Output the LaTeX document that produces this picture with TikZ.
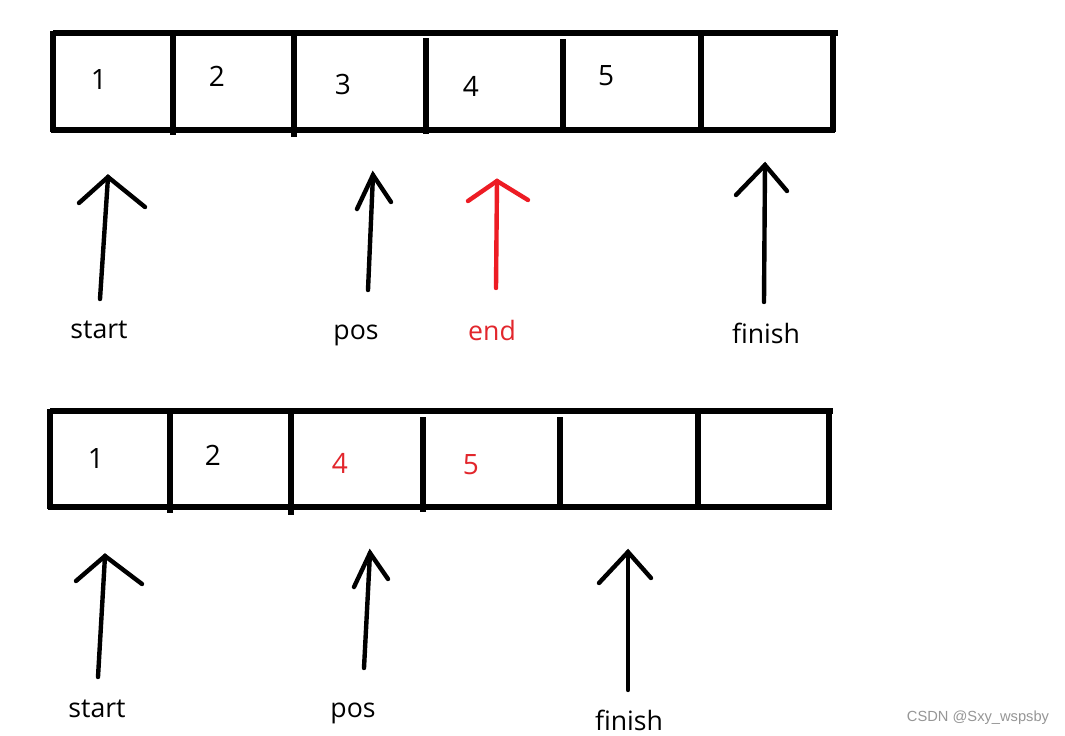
\documentclass[tikz,border=0pt]{standalone}
\usepackage{fontspec}
\setmainfont{Open Sans}
\newfontfamily\wmfont{Liberation Sans}
\definecolor{pred}{RGB}{237,28,36}
\definecolor{tred}{RGB}{226,38,44}
\definecolor{wmgray}{RGB}{150,150,150}
\begin{document}
\begin{tikzpicture}[x=0.75pt,y=-0.75pt,
  boxline/.style={line width=4.2pt,line cap=butt},
  arr/.style={line width=3.3pt,line cap=round,line join=miter},
  digit/.style={inner sep=0pt,font=\fontsize{21pt}{24pt}\selectfont},
  lbl/.style={inner sep=0pt,font=\fontsize{20pt}{24pt}\selectfont},
  wm/.style={inner sep=0pt,text=wmgray,font=\wmfont\fontsize{11pt}{13pt}\selectfont}]
\useasboundingbox[fill=white] (0,0) rectangle (1065,736);

% ---------- top array ----------
\draw[boxline] (53,33) -- (838,33);
\draw[boxline] (51,130) -- (835,130);
\draw[boxline] (53,31) -- (53,132);
\draw[boxline] (173,33) -- (173,135);
\draw[boxline] (294,33) -- (294,137);
\draw[boxline] (426,38) -- (426,134);
\draw[boxline] (563,39) -- (563,129);
\draw[boxline] (701,33) -- (701,130);
\draw[boxline] (833,31) -- (833,132);

\node[digit] (a1) at (99,80) {1};
\node[digit] (a2) at (217,76) {2};
\node[digit] (a3) at (343,84) {3};
\node[digit] (a4) at (471,86) {4};
\node[digit] (a5) at (606,76) {5};

% top arrows
\coordinate (sTa) at (108,177); \coordinate (sTb) at (100,299);
\coordinate (sTl) at (79,203);  \coordinate (sTr) at (145,207);
\draw[arr] (sTb) -- (sTa);
\draw[arr] (sTl) -- (sTa) -- (sTr);

\coordinate (pTa) at (373,175); \coordinate (pTb) at (368,290);
\coordinate (pTl) at (357,209); \coordinate (pTr) at (391,202);
\draw[arr] (pTb) -- (pTa);
\draw[arr] (pTl) -- (pTa) -- (pTr);

\coordinate (eTa) at (497,181); \coordinate (eTb) at (496,288);
\coordinate (eTl) at (468,201); \coordinate (eTr) at (528,200);
\draw[arr,pred] (eTb) -- (eTa);
\draw[arr,pred] (eTl) -- (eTa) -- (eTr);

\coordinate (fTa) at (765,165); \coordinate (fTb) at (764,302);
\coordinate (fTl) at (736,195); \coordinate (fTr) at (787,191);
\draw[arr] (fTb) -- (fTa);
\draw[arr] (fTl) -- (fTa) -- (fTr);

\node[lbl] (startT) at (99,330) {start};
\node[lbl] (posT) at (356,335) {pos};
\node[lbl,text=tred] (endT) at (492,330) {end};
\node[lbl] (finishT) at (766,333) {finish};

% ---------- bottom array ----------
\draw[boxline] (50,411) -- (833,411);
\draw[boxline] (48,507) -- (832,507);
\draw[boxline] (50,409) -- (50,509);
\draw[boxline] (170,411) -- (170,513);
\draw[boxline] (291,411) -- (291,515);
\draw[boxline] (423,417) -- (423,512);
\draw[boxline] (560,417) -- (560,507);
\draw[boxline] (698,411) -- (698,507);
\draw[boxline] (829,409) -- (829,510);

\node[digit] (b1) at (96,458) {1};
\node[digit] (b2) at (213,455) {2};
\node[digit,text=tred] (b4) at (340,463) {4};
\node[digit,text=tred] (b5) at (471,465) {5};

% bottom arrows
\coordinate (sBa) at (105,556); \coordinate (sBb) at (98,677);
\coordinate (sBl) at (76,581);  \coordinate (sBr) at (142,584);
\draw[arr] (sBb) -- (sBa);
\draw[arr] (sBl) -- (sBa) -- (sBr);

\coordinate (pBa) at (370,553); \coordinate (pBb) at (364,668);
\coordinate (pBl) at (354,587); \coordinate (pBr) at (388,579);
\draw[arr] (pBb) -- (pBa);
\draw[arr] (pBl) -- (pBa) -- (pBr);

\coordinate (fBa) at (628,552); \coordinate (fBb) at (628,690);
\coordinate (fBl) at (599,583); \coordinate (fBr) at (651,578);
\draw[arr] (fBb) -- (fBa);
\draw[arr] (fBl) -- (fBa) -- (fBr);

\node[lbl] (startB) at (97,709) {start};
\node[lbl] (posB) at (353,713) {pos};
\node[lbl] (finishB) at (629,720) {finish};

\node[wm] (wmark) at (978,718) {CSDN @Sxy\_wspsby};
\end{tikzpicture}
\end{document}
